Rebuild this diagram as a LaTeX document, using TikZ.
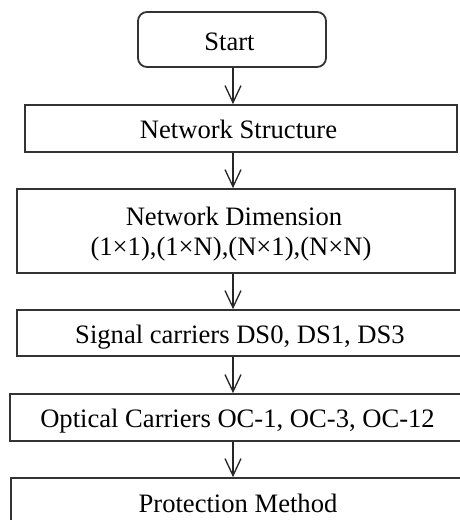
\documentclass[tikz,border=0pt]{standalone}
\usepackage{fontspec}
\setmainfont{Liberation Serif}
\usetikzlibrary{arrows.meta}
\begin{document}
\begin{tikzpicture}[x=1pt,y=-1pt,
  box/.style={draw=black!80, line width=1.8pt, inner sep=0pt},
  txt/.style={anchor=base, inner sep=0pt, font=\fontsize{26.6}{30}\selectfont, text=black},
  arr/.style={draw=black!85, line width=1.3pt, -{Straight Barb[length=17pt,width=16pt]}}]
\clip (0,0) rectangle (460,520);
\fill[white] (0,0) rectangle (460,520);
\coordinate (ax) at (233,0);
% boxes
\node[box, rounded corners=9pt, minimum width=188pt, minimum height=55pt] (start) at (232,39.5) {};
\node[box, minimum width=432pt, minimum height=47pt] (ns) at (241,128.5) {};
\node[box, minimum width=438pt, minimum height=84pt] (nd) at (236,231) {};
\node[box, minimum width=458pt, minimum height=46pt] (sc) at (246,333) {};
\node[box, minimum width=465pt, minimum height=47pt] (oc) at (242.5,417.5) {};
\node[box, minimum width=464pt, minimum height=60pt] (pm) at (243,508) {};
% texts
\node[txt] (startt) at (229.5,50) {Start};
\node[txt] (nst) at (238.5,138) {Network Structure};
\node[txt] (ndt1) at (234,225) {Network Dimension};
\node[txt] (ndt2) at (231,255) {(1×1),(1×N),(N×1),(N×N)};
\node[txt] (sct) at (240,343) {Signal carriers DS0, DS1, DS3};
\node[txt] (oct) at (237.5,427) {Optical Carriers OC-1, OC-3, OC-12};
\node[txt] (pmt) at (238,512) {Protection Method};
% connectors
\draw[arr] (start.south -| ax) -- (ns.north -| ax);
\draw[arr] (ns.south -| ax) -- (nd.north -| ax);
\draw[arr] (nd.south -| ax) -- (sc.north -| ax);
\draw[arr] (sc.south -| ax) -- (oc.north -| ax);
\draw[arr] (oc.south -| ax) -- (pm.north -| ax);
\end{tikzpicture}
\end{document}
